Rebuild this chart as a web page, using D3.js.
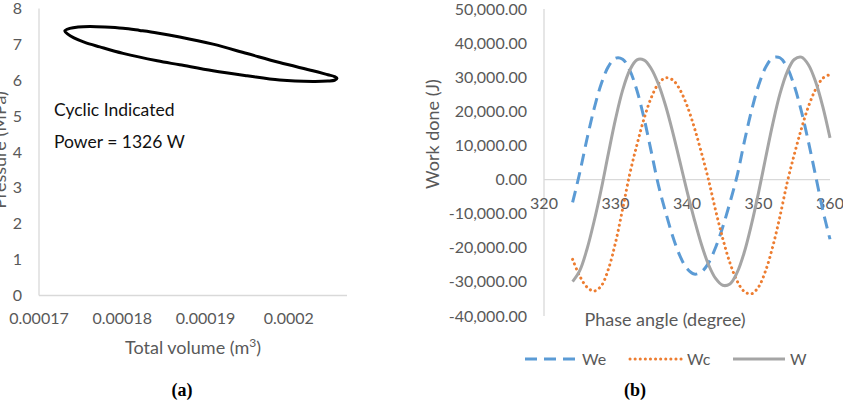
<!DOCTYPE html>
<html>
<head>
<meta charset="utf-8">
<style>
  body { margin: 0; background: #fff; }
  svg { display: block; font-family: Lato, "Open Sans", sans-serif; }
  .tick-label { fill: #595959; font-size: 16px; }
  .axis-title { fill: #595959; font-size: 18px; }
  .panel-tag { font-family: "Liberation Serif", serif; font-weight: bold; font-size: 18px; fill: #000; }
</style>
</head>
<body>
<script src="https://d3js.org/d3.v7.min.js"></script>
<script>
const volume = [
  0.0001731, 0.0001737, 0.0001747, 0.0001761, 0.0001779, 0.0001801, 0.0001821, 0.0001842,
  0.0001869, 0.0001909, 0.0001950, 0.0001989, 0.0002029, 0.0002047, 0.0002055, 0.0002058,
  0.0002055, 0.0002047, 0.0002029, 0.0001989, 0.0001950, 0.0001909, 0.0001869, 0.0001842,
  0.0001801, 0.0001773, 0.0001755, 0.0001742, 0.0001735
];
const pressure = [
  7.375, 7.444, 7.486, 7.500, 7.486, 7.450, 7.389, 7.319,
  7.208, 7.006, 6.744, 6.494, 6.264, 6.153, 6.103, 6.056,
  6.000, 5.978, 5.967, 6.006, 6.125, 6.264, 6.431, 6.542,
  6.750, 6.931, 7.056, 7.181, 7.278
];
const volTicks = [0.00017, 0.00018, 0.00019, 0.0002];
const volTickLabels = ["0.00017", "0.00018", "0.00019", "0.0002"];
const presTicks = [0, 1, 2, 3, 4, 5, 6, 7, 8];

// (b) work done vs phase angle
const angle = [324, 325, 326, 327, 328, 329, 330, 331, 332, 333, 334, 335, 336, 337, 338, 339, 340, 341, 342,
  343, 344, 345, 346, 347, 348, 349, 350, 351, 352, 353, 354, 355, 356, 357, 358, 359, 360];
const We = [-6700, 2000, 11800, 20700, 28000, 33100, 35600, 35300, 32000, 26100, 17900, 8200, -1600, -9500,
  -16600, -22300, -26100, -27700, -27100, -24500, -19900, -13900, -6800, 1000, 10900, 20000, 27500,
  32900, 35700, 35700, 32900, 27500, 20000, 10900, 1000, -9000, -17500];
const Wc = [-23400, -28300, -31500, -32700, -31200, -26300, -18500, -8600, 1700, 10200, 17900, 24000, 28100,
  29800, 29200, 26400, 21700, 15400, 8000, 0, -9000, -17300, -24400, -29700, -32800, -33500, -31500,
  -26700, -19600, -10800, -1000, 7300, 14900, 21500, 26500, 29700, 30800];
const W = [-29900, -26700, -20500, -12300, -2900, 7600, 17700, 26200, 32100, 35100, 35000, 32500, 28000,
  21700, 13900, 5300, -3400, -11500, -18900, -24900, -29000, -31000, -30600, -27300, -21400, -13300,
  -3900, 6400, 16400, 25100, 31500, 35200, 35900, 33600, 28600, 21300, 12200];
const angleTicks = [320, 330, 340, 350, 360];
const workTicks = [50000, 40000, 30000, 20000, 10000, 0, -10000, -20000, -30000, -40000];
const workTickLabels = ["50,000.00", "40,000.00", "30,000.00", "20,000.00", "10,000.00", "0.00",
  "-10,000.00", "-20,000.00", "-30,000.00", "-40,000.00"];
const seriesNames = ["We", "Wc", "W"];

const svg = d3.select("body").append("svg")
  .attr("width", 843)
  .attr("height", 408);

const axisColor = "#d9d9d9";

// ---------- panel (a) ----------
const xa = d3.scaleLinear().domain([0.00017, 0.000207]).range([39, 347]);
const ya = d3.scaleLinear().domain([0, 8]).range([295.5, 8.5]);

const ga = svg.append("g");
ga.append("line").attr("x1", xa.range()[0]).attr("x2", xa.range()[0])
  .attr("y1", ya(8)).attr("y2", ya(0)).attr("stroke", axisColor).attr("stroke-width", 1.3);
ga.append("line").attr("x1", xa.range()[0]).attr("x2", xa.range()[1])
  .attr("y1", ya(0)).attr("y2", ya(0)).attr("stroke", axisColor).attr("stroke-width", 1.3);

ga.selectAll(".ya").data(presTicks).enter().append("text")
  .attr("class", "tick-label")
  .attr("x", 22).attr("y", d => ya(d)).attr("dy", "0.35em")
  .attr("text-anchor", "end")
  .text(d => d);

ga.selectAll(".xa").data(volTicks).enter().append("text")
  .attr("class", "tick-label")
  .attr("x", d => xa(d)).attr("y", 324)
  .attr("text-anchor", "middle")
  .text((d, i) => volTickLabels[i]);

const xt = ga.append("text").attr("class", "axis-title")
  .attr("x", 193).attr("y", 354).attr("text-anchor", "middle");
xt.append("tspan").text("Total volume (m");
xt.append("tspan").attr("font-size", "12px").attr("dy", "-7").text("3");
xt.append("tspan").attr("dy", "7").text(")");

// the y title sits mostly outside the picture, as in the original
ga.append("text").attr("class", "axis-title")
  .attr("transform", "translate(6,150) rotate(-90)")
  .attr("text-anchor", "middle")
  .text("Pressure (MPa)");

const loop = d3.line()
  .x(d => xa(d[0])).y(d => ya(d[1]))
  .curve(d3.curveCatmullRomClosed);
ga.append("path")
  .datum(d3.zip(volume, pressure))
  .attr("d", loop)
  .attr("fill", "none")
  .attr("stroke", "#000")
  .attr("stroke-width", 3);

ga.append("text").attr("x", 54).attr("y", 116)
  .attr("font-size", "17.5px").attr("fill", "#111").text("Cyclic Indicated");
ga.append("text").attr("x", 54).attr("y", 148)
  .attr("font-size", "17.5px").attr("fill", "#111").text("Power = 1326 W");

ga.append("text").attr("class", "panel-tag")
  .attr("x", 182).attr("y", 396).attr("text-anchor", "middle").text("(a)");

// ---------- panel (b) ----------
const xb = d3.scaleLinear().domain([320, 360]).range([544, 830]);
const yb = d3.scaleLinear().domain([-40000, 50000]).range([316, 9]);

const gb = svg.append("g");
gb.append("line").attr("x1", xb(320)).attr("x2", xb(320))
  .attr("y1", yb(50000)).attr("y2", yb(-40000)).attr("stroke", axisColor).attr("stroke-width", 1.3);
gb.append("line").attr("x1", xb(320)).attr("x2", xb(360))
  .attr("y1", yb(0)).attr("y2", yb(0)).attr("stroke", axisColor).attr("stroke-width", 1.3);

gb.selectAll(".yb").data(workTicks).enter().append("text")
  .attr("class", "tick-label")
  .attr("x", 527).attr("y", d => yb(d)).attr("dy", "0.35em")
  .attr("text-anchor", "end")
  .text((d, i) => workTickLabels[i]);

gb.selectAll(".xb").data(angleTicks).enter().append("text")
  .attr("class", "tick-label")
  .attr("x", d => xb(d)).attr("y", 209)
  .attr("text-anchor", "middle")
  .text(d => d);

gb.append("text").attr("class", "axis-title")
  .attr("x", 665).attr("y", 326).attr("text-anchor", "middle")
  .attr("font-size", "19px")
  .text("Phase angle (degree)");

gb.append("text").attr("class", "axis-title")
  .attr("transform", "translate(439,134) rotate(-90)")
  .attr("text-anchor", "middle")
  .text("Work done (J)");

const styles = {
  We: { color: "#5B9BD5", dash: "12,7", cap: "butt", width: 3 },
  Wc: { color: "#ED7D31", dash: "0.1,5", cap: "round", width: 3 },
  W:  { color: "#A5A5A5", dash: null, cap: "butt", width: 3 }
};
const seriesData = { We: We, Wc: Wc, W: W };

const line = d3.line()
  .x(d => xb(d[0])).y(d => yb(d[1]))
  .curve(d3.curveCatmullRom);

seriesNames.forEach(name => {
  const s = styles[name];
  gb.append("path")
    .datum(d3.zip(angle, seriesData[name]))
    .attr("d", line)
    .attr("fill", "none")
    .attr("stroke", s.color)
    .attr("stroke-width", s.width)
    .attr("stroke-linecap", s.cap)
    .attr("stroke-dasharray", s.dash);
});

// legend
const legendX = [525, 630, 733];
seriesNames.forEach((name, i) => {
  const s = styles[name];
  gb.append("line")
    .attr("x1", legendX[i]).attr("x2", legendX[i] + 52)
    .attr("y1", 359).attr("y2", 359)
    .attr("stroke", s.color)
    .attr("stroke-width", s.width)
    .attr("stroke-linecap", s.cap)
    .attr("stroke-dasharray", s.dash);
  gb.append("text").attr("class", "tick-label")
    .attr("x", legendX[i] + 57).attr("y", 359).attr("dy", "0.35em")
    .text(name);
});

gb.append("text").attr("class", "panel-tag")
  .attr("x", 635).attr("y", 396).attr("text-anchor", "middle").text("(b)");
</script>
</body>
</html>
